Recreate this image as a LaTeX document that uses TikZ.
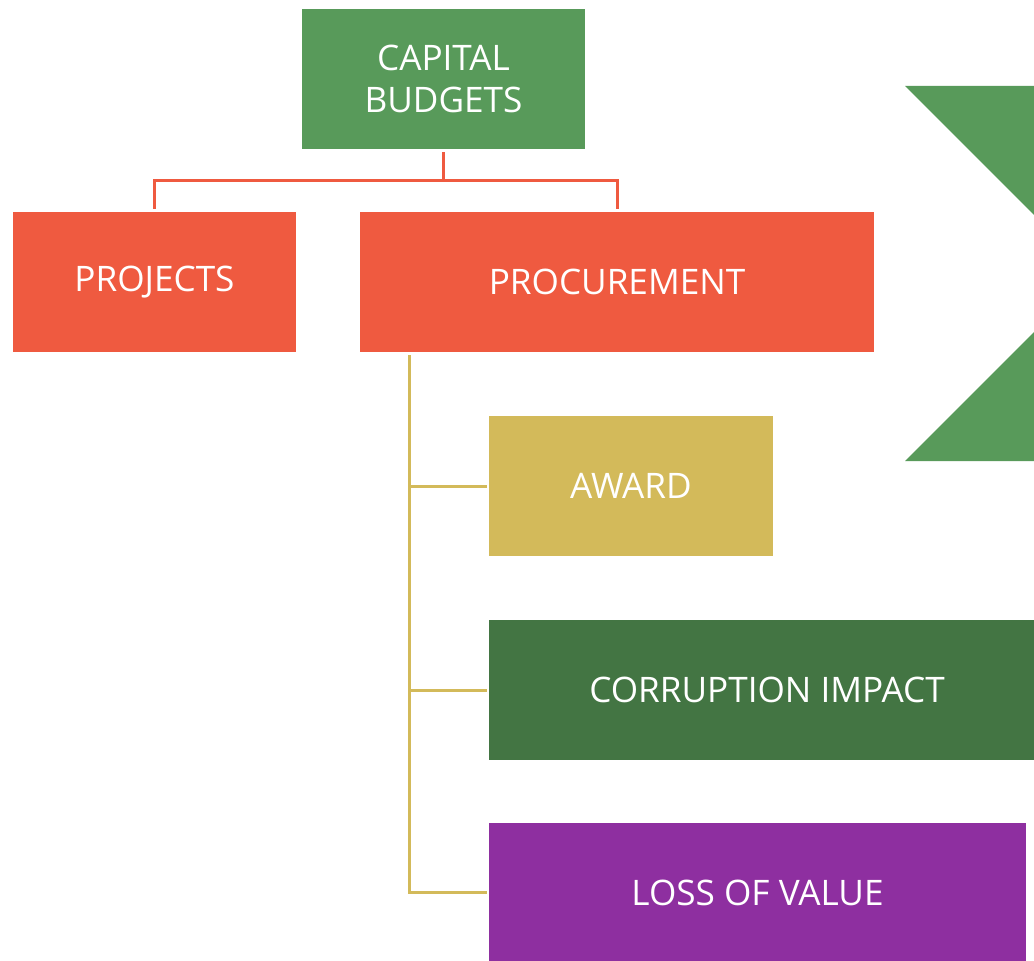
\documentclass[tikz,border=0pt]{standalone}
\usepackage{fontspec}
\setmainfont{Open Sans}
\usepackage{tikz}

\definecolor{leaf}{RGB}{88,154,90}
\definecolor{brick}{RGB}{239,90,64}
\definecolor{sand}{RGB}{211,186,90}
\definecolor{moss}{RGB}{67,117,67}
\definecolor{plum}{RGB}{142,47,160}

\tikzset{
  box/.style={rectangle, minimum height=2.8cm, text=white, align=center,
              font=\fontsize{20}{23.5}\selectfont},
  redline/.style={draw=brick, line width=1.7pt},
  sandline/.style={draw=sand, line width=1.7pt}
}

\begin{document}
\begin{tikzpicture}
	\useasboundingbox (0,0) rectangle (20.68,-19.2);
	\clip (0,0) rectangle (20.68,-19.2);  % boxes on the right run off the page

	\fill[leaf] (18.1,-1.72) -- (24,-1.72) -- (24,-9.22) -- (18.1,-9.22) -- (21.85,-5.47) -- cycle; % chevron

	\node[box, fill=leaf, minimum width=5.66cm] (capital) at (8.87,-1.58) {CAPITAL\\BUDGETS};
	\node[box, fill=brick, minimum width=5.66cm] (projects) at (3.09,-5.64) {PROJECTS};
	\node[box, fill=brick, minimum width=10.28cm] (procurement) at (12.34,-5.64) {PROCUREMENT};
	\node[box, fill=sand, minimum width=5.68cm] (award) at (12.62,-9.72) {AWARD};
	\node[box, fill=moss, minimum width=11.12cm] (corruption) at (15.34,-13.8) {CORRUPTION IMPACT};
	\node[box, fill=plum, minimum width=10.74cm] (loss) at (15.15,-17.85) {LOSS OF VALUE};

	\coordinate (split) at ([yshift=-0.62cm]capital.south);
	\draw[redline, shorten <=0.06cm] (capital.south) -- (split);
	\draw[redline, shorten >=0.06cm] (split) -| (projects.north);
	\draw[redline, shorten >=0.06cm] (split) -| (procurement.north);

	\coordinate (trunk) at ([xshift=1cm, yshift=-0.06cm]procurement.south west);
	\draw[sandline, shorten >=0.04cm] (trunk) |- (award.west);
	\draw[sandline, shorten >=0.04cm] (trunk) |- (corruption.west);
	\draw[sandline, shorten >=0.04cm] (trunk) |- (loss.west);
\end{tikzpicture}
\end{document}
